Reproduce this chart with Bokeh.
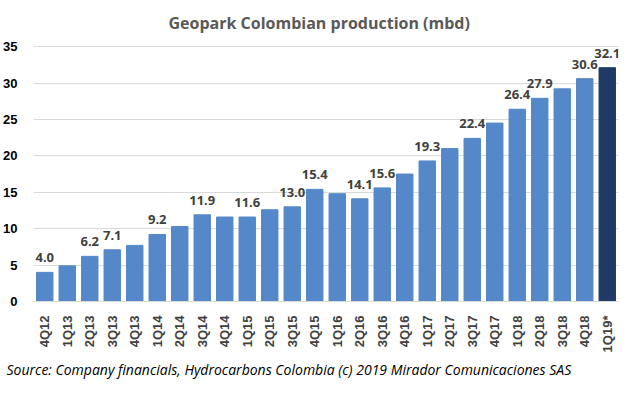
import math
from bokeh.plotting import figure
from bokeh.models import ColumnDataSource, Title, FactorRange, Range1d, SingleIntervalTicker, LabelSet
from bokeh.core.properties import value
from bokeh.embed import file_html
from bokeh.resources import INLINE

# ---- data ----
quarters = ["4Q12", "1Q13", "2Q13", "3Q13", "4Q13", "1Q14", "2Q14", "3Q14", "4Q14",
            "1Q15", "2Q15", "3Q15", "4Q15", "1Q16", "2Q16", "3Q16", "4Q16", "1Q17",
            "2Q17", "3Q17", "4Q17", "1Q18", "2Q18", "3Q18", "4Q18", "1Q19*"]
production = [4.0, 4.9, 6.2, 7.1, 7.7, 9.2, 10.3, 11.9, 11.6, 11.6, 12.6, 13.0, 15.4,
              14.8, 14.1, 15.6, 17.5, 19.3, 21.0, 22.4, 24.5, 26.4, 27.9, 29.2, 30.6, 32.1]
labelled = [True, False, True, True, False, True, False, True, False, True, False, True, True,
            False, True, True, False, True, False, True, False, True, True, False, True, True]
y_ticks = [0, 5, 10, 15, 20, 25, 30, 35]

title_text = "Geopark Colombian production (mbd)"
source_text = "Source: Company financials, Hydrocarbons Colombia (c) 2019 Mirador Comunicaciones SAS"

bar_color = "#5588c8"
last_color = "#1f3a64"
colors = [bar_color] * (len(quarters) - 1) + [last_color]

src = ColumnDataSource(dict(q=quarters, v=production, c=colors))
lab = ColumnDataSource(dict(
    q=[q for q, s in zip(quarters, labelled) if s],
    v=[v for v, s in zip(production, labelled) if s],
    t=[f"{v:.1f}" for v, s in zip(production, labelled) if s],
))

p = figure(width=624, height=380, output_backend="svg", toolbar_location=None,
           x_range=FactorRange(*quarters, range_padding=0),
           y_range=Range1d(y_ticks[0], y_ticks[-1] + 0.7),
           min_border_left=27, min_border_right=6, min_border_top=41, min_border_bottom=79)

p.vbar(x="q", top="v", width=0.73, color="c", source=src)
p.add_layout(LabelSet(x="q", y="v", text="t", source=lab, text_align="center",
                      text_baseline="alphabetic", y_offset=10, text_font=value("Open Sans"),
                      text_font_style="bold", text_font_size="13px", text_color="#404040"))

p.outline_line_color = None
p.background_fill_color = "white"
p.border_fill_color = "white"
p.xgrid.grid_line_color = None
p.ygrid.grid_line_color = "#d9d9d9"
p.ygrid.grid_line_width = 1

p.yaxis.ticker = SingleIntervalTicker(interval=5)
p.yaxis.axis_line_color = None
p.yaxis.major_tick_line_color = None
p.yaxis.minor_tick_line_color = None
p.yaxis.major_tick_out = 0
p.yaxis.major_tick_in = 0
p.yaxis.major_label_standoff = 12
p.yaxis.major_label_text_font = "Liberation Sans"
p.yaxis.major_label_text_font_style = "bold"
p.yaxis.major_label_text_font_size = "13px"
p.yaxis.major_label_text_color = "black"

p.xaxis.axis_line_color = "#d9d9d9"
p.xaxis.major_tick_line_color = None
p.xaxis.major_tick_out = 0
p.xaxis.major_tick_in = 0
p.xaxis.major_label_orientation = math.pi / 2
p.xaxis.major_label_standoff = 14
p.xaxis.major_label_text_font = "Liberation Sans"
p.xaxis.major_label_text_font_style = "bold"
p.xaxis.major_label_text_font_size = "13px"
p.xaxis.major_label_text_color = "#404040"

p.title.text = title_text
p.title.align = "left"
p.title.offset = 135
p.title.standoff = 15
p.title.text_font = "Open Sans"
p.title.text_font_style = "bold"
p.title.text_font_size = "16px"
p.title.text_color = "#595959"

p.add_layout(Title(text=source_text, align="left", offset=-27, standoff=4, text_font="Open Sans",
                   text_font_style="italic", text_font_size="14px", text_color="black"),
             "below")

open("out.html", "w").write(file_html(p, INLINE))
